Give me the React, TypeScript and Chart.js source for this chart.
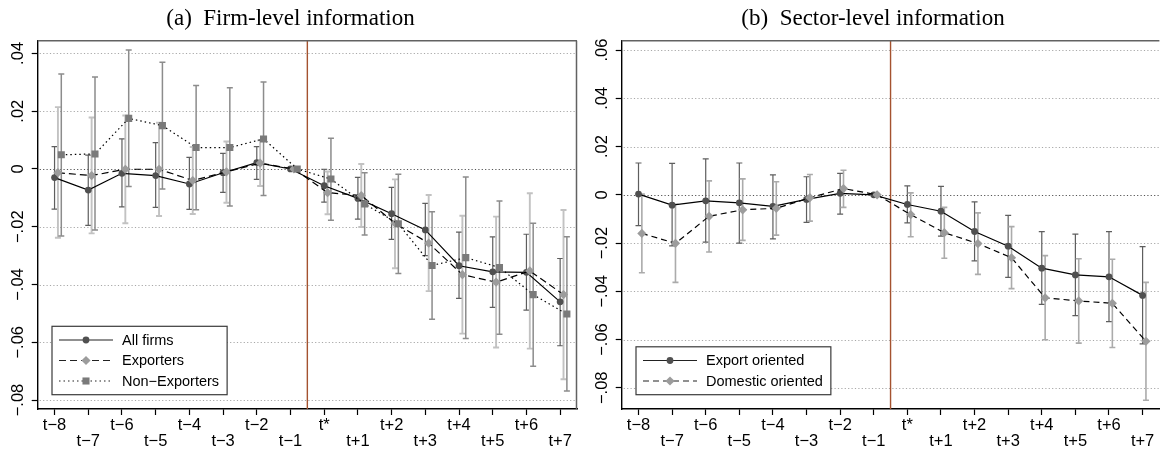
import React, { useEffect, useRef } from 'react';
import { Chart, registerables } from 'chart.js';

Chart.register(...registerables);

// ---------- data ----------
const X_LABELS = ['t−8', 't−7', 't−6', 't−5', 't−4', 't−3', 't−2', 't−1', 't*', 't+1', 't+2', 't+3', 't+4', 't+5', 't+6', 't+7'];
const EVENT_POS = 7.5; // between t−1 and t*

const LEFT_Y_TICKS = [-0.08, -0.06, -0.04, -0.02, 0, 0.02, 0.04];
const LEFT_Y_LABELS = ['−.08', '−.06', '−.04', '−.02', '0', '.02', '.04'];
const RIGHT_Y_TICKS = [-0.08, -0.06, -0.04, -0.02, 0, 0.02, 0.04, 0.06];
const RIGHT_Y_LABELS = ['−.08', '−.06', '−.04', '−.02', '0', '.02', '.04', '.06'];

// (a) Firm-level information
const ALL_FIRMS = [-0.0030, -0.0073, -0.0015, -0.0023, -0.0052, -0.0013, 0.0022, 0, -0.0058, -0.0102, -0.0155, -0.0211, -0.0335, -0.0356, -0.0358, -0.0460];
const ALL_FIRMS_LO = [-0.0139, -0.0195, -0.0131, -0.0133, -0.0140, -0.0081, -0.0036, null, -0.0115, -0.0174, -0.0244, -0.0300, -0.0448, -0.0479, -0.0489, -0.0612];
const ALL_FIRMS_HI = [0.0077, 0.0048, 0.0104, 0.0091, 0.0040, 0.0054, 0.0077, null, -0.0001, -0.0029, -0.0064, -0.0119, -0.0219, -0.0235, -0.0226, -0.0310];

const EXPORTERS = [-0.0013, -0.0023, -0.0001, -0.0001, -0.0040, -0.0010, 0.0020, 0, -0.0082, -0.0092, -0.0188, -0.0257, -0.0366, -0.0392, -0.0353, -0.0435];
const EXPORTERS_LO = [-0.0238, -0.0223, -0.0188, -0.0163, -0.0156, -0.0117, -0.0059, null, -0.0157, -0.0201, -0.0344, -0.0423, -0.0570, -0.0618, -0.0622, -0.0728];
const EXPORTERS_HI = [0.0214, 0.0178, 0.0185, 0.0160, 0.0076, 0.0095, 0.0099, null, -0.0009, 0.0017, -0.0036, -0.0090, -0.0162, -0.0165, -0.0084, -0.0142];

const NON_EXPORTERS = [0.0049, 0.0052, 0.0175, 0.0150, 0.0074, 0.0074, 0.0104, 0, -0.0035, -0.0121, -0.0190, -0.0334, -0.0307, -0.0341, -0.0435, -0.0502];
const NON_EXPORTERS_LO = [-0.0232, -0.0211, -0.0061, -0.0069, -0.0141, -0.0128, -0.0092, null, -0.0178, -0.0229, -0.0362, -0.0520, -0.0587, -0.0572, -0.0683, -0.0769];
const NON_EXPORTERS_HI = [0.0329, 0.0318, 0.0412, 0.0369, 0.0289, 0.0281, 0.0301, null, 0.0106, -0.0013, -0.0018, -0.0148, -0.0028, -0.0111, -0.0188, -0.0235];

// (b) Sector-level information
const EXPORT_ORIENTED = [0.0003, -0.0043, -0.0025, -0.0033, -0.0048, -0.0019, 0.0006, 0, -0.0040, -0.0068, -0.0152, -0.0213, -0.0304, -0.0332, -0.0340, -0.0417];
const EXPORT_ORIENTED_LO = [-0.0128, -0.0212, -0.0196, -0.0200, -0.0183, -0.0114, -0.0080, null, -0.0116, -0.0171, -0.0274, -0.0342, -0.0454, -0.0501, -0.0526, -0.0618];
const EXPORT_ORIENTED_HI = [0.0132, 0.0130, 0.0149, 0.0132, 0.0083, 0.0075, 0.0089, null, 0.0037, 0.0035, -0.0029, -0.0085, -0.0153, -0.0163, -0.0153, -0.0215];

const DOMESTIC_ORIENTED = [-0.0160, -0.0201, -0.0089, -0.0062, -0.0056, -0.0012, 0.0026, 0, -0.0082, -0.0157, -0.0202, -0.0261, -0.0427, -0.0440, -0.0450, -0.0607];
const DOMESTIC_ORIENTED_LO = [-0.0323, -0.0363, -0.0237, -0.0189, -0.0167, -0.0109, -0.0052, null, -0.0174, -0.0263, -0.0330, -0.0389, -0.0601, -0.0615, -0.0633, -0.0852];
const DOMESTIC_ORIENTED_HI = [0.0003, -0.0039, 0.0058, 0.0066, 0.0054, 0.0084, 0.0102, null, 0.0008, -0.0052, -0.0075, -0.0132, -0.0252, -0.0265, -0.0267, -0.0363];

// ---------- styles ----------
const SANS = '"Liberation Sans", Arial, sans-serif';
const SERIF = '"Liberation Serif", "Times New Roman", serif';

const CIRCLE = { pointStyle: 'circle', radius: 3.4, pointColor: '#505050', ciColor: '#5e5e5e', ciWidth: 1.2, dash: [] as number[], offset: 0 };
const DIAMOND = { pointStyle: 'rectRot', radius: 4.6, pointColor: '#9c9c9c', ciColor: '#c2c2c2', ciWidth: 1.9, dash: [7, 4], offset: 0.1 };
const SQUARE = { pointStyle: 'rect', radius: 5, pointColor: '#7a7a7a', ciColor: '#8c8c8c', ciWidth: 1.5, dash: [1.5, 3], offset: 0.2 };

const PANELS: any[] = [
  {
    title: '(a)  Firm-level information',
    left: 0,
    axisWidth: 37.7,
    padRight: 1,
    yMin: -0.0831,
    yMax: 0.0444,
    yTicks: LEFT_Y_TICKS,
    yLabels: LEFT_Y_LABELS,
    rightBorder: true,
    series: [
      { ...CIRCLE, label: 'All firms', values: ALL_FIRMS, lo: ALL_FIRMS_LO, hi: ALL_FIRMS_HI },
      { ...DIAMOND, label: 'Exporters', values: EXPORTERS, lo: EXPORTERS_LO, hi: EXPORTERS_HI },
      { ...SQUARE, label: 'Non−Exporters', values: NON_EXPORTERS, lo: NON_EXPORTERS_LO, hi: NON_EXPORTERS_HI },
    ],
  },
  {
    title: '(b)  Sector-level information',
    left: 582,
    axisWidth: 39.7,
    padRight: 0,
    yMin: -0.0888,
    yMax: 0.0639,
    yTicks: RIGHT_Y_TICKS,
    yLabels: RIGHT_Y_LABELS,
    rightBorder: false,
    series: [
      { ...CIRCLE, label: 'Export oriented', values: EXPORT_ORIENTED, lo: EXPORT_ORIENTED_LO, hi: EXPORT_ORIENTED_HI },
      { ...DIAMOND, ciColor: '#ababab', ciWidth: 1.6, dash: [6, 4], label: 'Domestic oriented', values: DOMESTIC_ORIENTED, lo: DOMESTIC_ORIENTED_LO, hi: DOMESTIC_ORIENTED_HI },
    ],
  },
];

function drawMarker(ctx: CanvasRenderingContext2D, style: string, x: number, y: number, r: number, color: string) {
  ctx.save();
  ctx.fillStyle = color;
  ctx.beginPath();
  if (style === 'circle') {
    ctx.arc(x, y, r, 0, Math.PI * 2);
  } else if (style === 'rectRot') {
    ctx.moveTo(x, y - r);
    ctx.lineTo(x + r, y);
    ctx.lineTo(x, y + r);
    ctx.lineTo(x - r, y);
    ctx.closePath();
  } else {
    const h = r * Math.SQRT1_2;
    ctx.rect(x - h, y - h, 2 * h, 2 * h);
  }
  ctx.fill();
  ctx.restore();
}

function makeConfig(p: any) {
  const n = p.series.length;
  const datasets = p.series.map((s: any, k: number) => ({
    type: 'line',
    label: s.label,
    data: s.values.map((v: number, i: number) => ({ x: i + s.offset, y: v })),
    borderColor: '#000',
    borderWidth: 1.2,
    borderDash: s.dash,
    pointStyle: s.pointStyle,
    pointRadius: s.radius,
    pointHoverRadius: s.radius,
    pointBackgroundColor: s.pointColor,
    pointBorderColor: s.pointColor,
    pointBorderWidth: 0,
    tension: 0,
    fill: false,
    order: n - k,
  }));

  const decor = {
    id: 'decor',
    beforeDatasetsDraw(chart: any) {
      const { ctx, chartArea: a } = chart;
      const xs = chart.scales.x;
      const ys = chart.scales.y;
      ctx.save();
      // dotted horizontal grid
      ctx.lineWidth = 1;
      ctx.setLineDash([1.2, 2.2]);
      p.yTicks.forEach((v: number) => {
        const py = Math.round(ys.getPixelForValue(v)) + 0.5;
        ctx.strokeStyle = v === 0 ? '#555' : '#a8a8a8';
        ctx.beginPath();
        ctx.moveTo(a.left + 2, py);
        ctx.lineTo(a.right, py);
        ctx.stroke();
      });
      ctx.setLineDash([]);
      // event line
      const ex = xs.getPixelForValue(EVENT_POS);
      ctx.strokeStyle = '#a4522f';
      ctx.lineWidth = 1.4;
      ctx.beginPath();
      ctx.moveTo(ex, a.top);
      ctx.lineTo(ex, a.bottom);
      ctx.stroke();
      // confidence intervals
      const cap = 3;
      p.series.forEach((s: any) => {
        ctx.strokeStyle = s.ciColor;
        ctx.lineWidth = s.ciWidth;
        s.lo.forEach((lo: number | null, i: number) => {
          const hi = s.hi[i];
          if (lo == null || hi == null) return;
          const px = xs.getPixelForValue(i + s.offset);
          const y1 = ys.getPixelForValue(lo);
          const y2 = ys.getPixelForValue(hi);
          ctx.beginPath();
          ctx.moveTo(px, y1);
          ctx.lineTo(px, y2);
          ctx.moveTo(px - cap, y1);
          ctx.lineTo(px + cap, y1);
          ctx.moveTo(px - cap, y2);
          ctx.lineTo(px + cap, y2);
          ctx.stroke();
        });
      });
      ctx.restore();
    },
    afterDraw(chart: any) {
      const { ctx, chartArea: a } = chart;
      const ys = chart.scales.y;
      ctx.save();
      // frame (top / right)
      ctx.strokeStyle = '#626262';
      ctx.lineWidth = 1.5;
      ctx.beginPath();
      ctx.moveTo(a.left, a.top);
      ctx.lineTo(a.right, a.top);
      if (p.rightBorder) {
        ctx.moveTo(a.right - 0.5, a.top);
        ctx.lineTo(a.right - 0.5, a.bottom);
      }
      ctx.stroke();
      // rotated y tick labels
      ctx.fillStyle = '#000';
      ctx.font = `16.5px ${SANS}`;
      ctx.textAlign = 'center';
      ctx.textBaseline = 'middle';
      p.yTicks.forEach((v: number, i: number) => {
        const cy = ys.getPixelForValue(v);
        ctx.save();
        ctx.translate(a.left - 19, cy);
        ctx.rotate(-Math.PI / 2);
        ctx.fillText(p.yLabels[i], 0, 0);
        ctx.restore();
      });
      // legend
      ctx.font = `14.5px ${SANS}`;
      const rowH = 20.5;
      const rows = p.series.length;
      const boxH = 27.4 + rowH * (rows - 1);
      const textW = Math.max(...p.series.map((s: any) => ctx.measureText(s.label).width));
      const boxW = 70 + textW + 8;
      const bx = a.left + 14.3;
      const by = a.bottom - 14.3 - boxH;
      ctx.fillStyle = '#fff';
      ctx.fillRect(bx, by, boxW, boxH);
      ctx.strokeStyle = '#3a3a3a';
      ctx.lineWidth = 1.2;
      ctx.strokeRect(bx, by, boxW, boxH);
      p.series.forEach((s: any, i: number) => {
        const cy = by + 13.7 + i * rowH;
        ctx.strokeStyle = '#222';
        ctx.lineWidth = 1.2;
        ctx.setLineDash(s.dash);
        ctx.beginPath();
        ctx.moveTo(bx + 7, cy);
        ctx.lineTo(bx + 61, cy);
        ctx.stroke();
        ctx.setLineDash([]);
        drawMarker(ctx, s.pointStyle, bx + 34, cy, s.radius, s.pointColor);
        ctx.fillStyle = '#000';
        ctx.textAlign = 'left';
        ctx.textBaseline = 'middle';
        ctx.fillText(s.label, bx + 70, cy + 0.5);
      });
      ctx.restore();
    },
  };

  return {
    type: 'line',
    data: { datasets },
    plugins: [decor],
    options: {
      animation: false,
      responsive: false,
      maintainAspectRatio: false,
      devicePixelRatio: 1,
      events: [],
      layout: { padding: { left: 0, right: p.padRight, top: 0, bottom: 0 } },
      plugins: {
        legend: { display: false },
        tooltip: { enabled: false },
        title: {
          display: true,
          text: p.title,
          color: '#000',
          font: { family: SERIF, size: 23, weight: 'normal', lineHeight: 1.2 },
          padding: { top: 5.5, bottom: 7.6 },
        },
      },
      scales: {
        x: {
          type: 'linear',
          min: -0.5,
          max: 15.5,
          afterBuildTicks: (s: any) => {
            s.ticks = X_LABELS.map((_, i) => ({ value: i }));
          },
          afterFit: (s: any) => {
            s.height = 44;
          },
          ticks: {
            autoSkip: false,
            maxRotation: 0,
            minRotation: 0,
            padding: 3,
            color: '#000',
            font: { family: SANS, size: 16.5, lineHeight: 0.96 },
            callback: (_v: any, i: number) => (i % 2 === 0 ? X_LABELS[i] : ['', X_LABELS[i]]),
          },
          grid: { display: true, drawOnChartArea: false, drawTicks: true, tickLength: 6, tickColor: '#000', tickWidth: 1.2 },
          border: { display: true, color: '#000', width: 1.4 },
        },
        y: {
          type: 'linear',
          min: p.yMin,
          max: p.yMax,
          afterBuildTicks: (s: any) => {
            s.ticks = p.yTicks.map((v: number) => ({ value: v }));
          },
          afterFit: (s: any) => {
            s.width = p.axisWidth;
          },
          ticks: { display: false },
          grid: { display: true, drawOnChartArea: false, drawTicks: true, tickLength: 6, tickColor: '#000', tickWidth: 1.2 },
          border: { display: true, color: '#000', width: 1.4 },
        },
      },
    },
  };
}

function Panel({ spec }: { spec: any }) {
  const ref = useRef<HTMLCanvasElement | null>(null);
  useEffect(() => {
    if (!ref.current) return;
    const chart = new Chart(ref.current, makeConfig(spec) as any);
    return () => chart.destroy();
  }, [spec]);
  return (
    <div style={{ position: 'absolute', left: spec.left, top: 0, width: 582, height: 453 }}>
      <canvas ref={ref} width={582} height={453} style={{ display: 'block', width: 582, height: 453 }} />
    </div>
  );
}

export default function App() {
  return (
    <div style={{ position: 'absolute', left: 0, top: 0, width: 1164, height: 453, background: '#fff', overflow: 'hidden' }}>
      {PANELS.map((p) => (
        <Panel key={p.title} spec={p} />
      ))}
    </div>
  );
}
